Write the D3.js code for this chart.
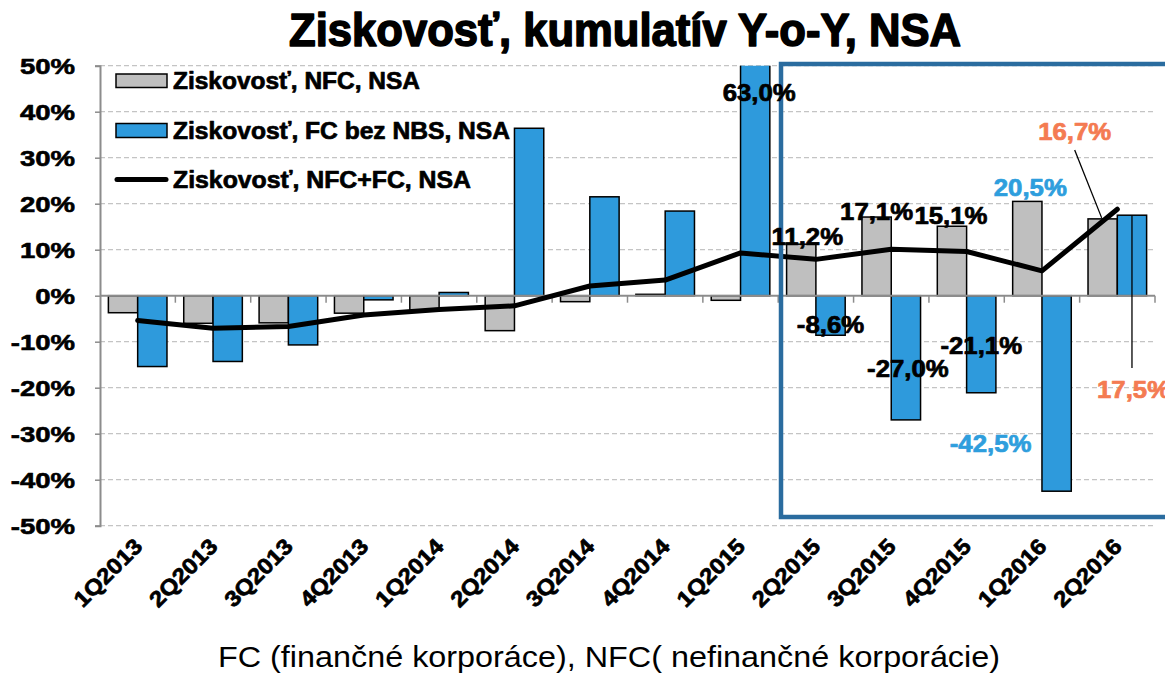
<!DOCTYPE html>
<html>
<head>
<meta charset="utf-8">
<script src="https://cdn.jsdelivr.net/npm/d3@7"></script>
<style>
  body { margin: 0; background: #fff; }
  svg { display: block; }
  text { font-family: "Liberation Sans", Arial, sans-serif; }
  .heavy { stroke-width: 0.7px; paint-order: stroke; }
</style>
</head>
<body>
<svg id="chart" width="1165" height="675"></svg>
<script>
// ---------- DATA ----------
const categories = ["1Q2013","2Q2013","3Q2013","4Q2013","1Q2014","2Q2014","3Q2014","4Q2014","1Q2015","2Q2015","3Q2015","4Q2015","1Q2016","2Q2016"];
const nfcValues  = [-3.7, -6.0, -5.9, -3.8, -3.2, -7.6, -1.3, 0.3, -1.0, 11.2, 17.1, 15.1, 20.5, 16.7];
const fcValues   = [-15.4, -14.3, -10.7, -0.9, 0.7, 36.4, 21.5, 18.4, 63.0, -8.6, -27.0, -21.1, -42.5, 17.5];
const totalValues= [-5.4, -7.1, -6.7, -4.2, -3.0, -2.2, 2.1, 3.4, 9.3, 7.9, 10.1, 9.6, 5.4, 18.8];
const yTicks = [50, 40, 30, 20, 10, 0, -10, -20, -30, -40, -50];
const seriesNames = ["Ziskovosť, NFC, NSA", "Ziskovosť, FC bez NBS, NSA", "Ziskovosť, NFC+FC, NSA"];
const titleText = "Ziskovosť, kumulatív Y-o-Y, NSA";
const footerText = "FC (finančné korporáce), NFC( nefinančné korporácie)";

// ---------- STYLE ----------
const C = { gray: "#BFBFBF", blue: "#2E9ADC", labelBlue: "#2E9EDD", orange: "#F47B52", box: "#2A6C9F", grid: "#C4C4C4", axis: "#8C8C8C" };

const svg = d3.select("#chart");
const L = 100, R = 1155, T = 65.7, B = 525.7;

const x = d3.scaleBand().domain(categories).range([L, R]).paddingInner(0).paddingOuter(0);
const xs = d3.scaleBand().domain(["nfc", "fc"]).range([0, x.bandwidth()]).paddingInner(0).paddingOuter(0.286);
const y = d3.scaleLinear().domain([-50, 50]).range([B, T]);

function stretch(sel, factor) {
  sel.each(function() {
    const w = this.getComputedTextLength();
    d3.select(this).attr("textLength", w * factor).attr("lengthAdjust", "spacingAndGlyphs");
  });
}
function heavy(sel, w) {
  sel.attr("stroke", function() { return d3.select(this).attr("fill") || "#000"; })
     .attr("stroke-width", w).attr("paint-order", "stroke").attr("stroke-linejoin", "round");
}

// Title
svg.append("text").attr("x", 625).attr("y", 46).attr("text-anchor", "middle").attr("fill", "#000")
  .attr("font-size", 47).attr("font-weight", "bold").text(titleText)
  .attr("textLength", 672).attr("lengthAdjust", "spacingAndGlyphs").call(heavy, 1.6);

// Gridlines
svg.append("g").selectAll("line").data(yTicks.filter(d => d !== 0)).join("line")
  .attr("x1", L).attr("x2", R).attr("y1", d => y(d)).attr("y2", d => y(d))
  .attr("stroke", C.grid).attr("stroke-width", 1.3).attr("stroke-dasharray", "5,3");

// Y axis
const yAxis = svg.append("g").attr("transform", `translate(${L},0)`)
  .call(d3.axisLeft(y).tickValues(yTicks).tickSize(5).tickFormat(d => d + "%"));
yAxis.select(".domain").attr("stroke", C.axis).attr("stroke-width", 2);
yAxis.selectAll(".tick line").attr("stroke", C.axis).attr("stroke-width", 1.5);
yAxis.selectAll(".tick text").attr("x", -25).attr("dy", "0.36em").attr("font-size", 22)
  .attr("font-weight", "bold").attr("fill", "#000").attr("font-family", "Liberation Sans, Arial, sans-serif")
  .call(stretch, 1.25).call(heavy, 0.6);

// Clip
svg.append("clipPath").attr("id", "plotclip").append("rect")
  .attr("x", L).attr("y", T).attr("width", R - L).attr("height", B - T);

const bars = svg.append("g").attr("clip-path", "url(#plotclip)");
function barRect(v) { return { y: Math.min(y(v), y(0)), h: Math.abs(y(v) - y(0)) }; }
bars.selectAll("rect.nfc").data(categories).join("rect").attr("class", "nfc")
  .attr("x", (d) => x(d) + xs("nfc")).attr("width", xs.bandwidth())
  .attr("y", (d, i) => barRect(nfcValues[i]).y).attr("height", (d, i) => barRect(nfcValues[i]).h)
  .attr("fill", C.gray).attr("stroke", "#000").attr("stroke-width", 1.5);
bars.selectAll("rect.fc").data(categories).join("rect").attr("class", "fc")
  .attr("x", (d) => x(d) + xs("fc")).attr("width", xs.bandwidth())
  .attr("y", (d, i) => barRect(fcValues[i]).y - (fcValues[i] > 50 ? 5 : 0))
  .attr("height", (d, i) => barRect(fcValues[i]).h + (fcValues[i] > 50 ? 5 : 0))
  .attr("fill", C.blue).attr("stroke", "#000").attr("stroke-width", 1.5);

// X axis line (0%) with ticks
const xAxis = svg.append("g").attr("transform", `translate(0,${y(0)})`);
xAxis.append("line").attr("x1", L).attr("x2", R).attr("stroke", C.axis).attr("stroke-width", 2);
xAxis.selectAll("line.tk").data(categories.slice(1).concat(["__end"])).join("line").attr("class", "tk")
  .attr("x1", d => d === "__end" ? R : x(d)).attr("x2", d => d === "__end" ? R : x(d))
  .attr("y1", 0).attr("y2", 7).attr("stroke", C.axis).attr("stroke-width", 1.5);

// Line series
const line = d3.line().x((d, i) => x(categories[i]) + x.bandwidth() / 2).y(d => y(d));
svg.append("path").datum(totalValues).attr("d", line).attr("fill", "none")
  .attr("stroke", "#000").attr("stroke-width", 5).attr("stroke-linejoin", "round").attr("stroke-linecap", "round");

// X labels
svg.append("g").selectAll("text").data(categories).join("text")
  .attr("transform", d => `translate(${x(d) + x.bandwidth() / 2 + 6},${B + 22}) rotate(-45)`)
  .attr("text-anchor", "end").attr("font-size", 22).attr("font-weight", "bold").attr("fill", "#000").text(d => d)
  .call(stretch, 1.1).call(heavy, 0.7);

// Highlight box
svg.append("rect").attr("x", 781).attr("y", 64).attr("width", 420).attr("height", 453)
  .attr("fill", "none").attr("stroke", C.box).attr("stroke-width", 4.5);

// Legend
const leg = svg.append("g");
leg.append("rect").attr("x", 116).attr("y", 74).attr("width", 51).attr("height", 13.5)
  .attr("fill", C.gray).attr("stroke", "#000").attr("stroke-width", 1.5);
leg.append("rect").attr("x", 116).attr("y", 123.5).attr("width", 51).attr("height", 14)
  .attr("fill", C.blue).attr("stroke", "#000").attr("stroke-width", 1.5);
leg.append("line").attr("x1", 117).attr("x2", 166).attr("y1", 179.5).attr("y2", 179.5)
  .attr("stroke", "#000").attr("stroke-width", 5).attr("stroke-linecap", "round");
const legW = [247, 337, 298];
leg.selectAll("text").data(seriesNames).join("text")
  .attr("x", 173).attr("y", (d, i) => [89, 138.5, 187.5][i]).attr("font-size", 23).attr("font-weight", "bold")
  .attr("fill", "#000").text(d => d).attr("textLength", (d, i) => legW[i]).attr("lengthAdjust", "spacingAndGlyphs")
  .call(heavy, 0.7);

// Data labels
const cx = (i, s) => x(categories[i]) + xs(s) + xs.bandwidth() / 2;
const labels = [
  { i: 8, s: "fc", v: 63.0, dx: 4, yy: y(50) + 35, color: "#000" },
  { i: 9, s: "nfc", v: nfcValues[9], dx: 6, yy: y(nfcValues[9]) + 1, color: "#000" },
  { i: 10, s: "nfc", v: nfcValues[10], dx: 0, yy: y(nfcValues[10]) + 3, color: "#000" },
  { i: 11, s: "nfc", v: nfcValues[11], dx: -1, yy: y(nfcValues[11]) - 2, color: "#000" },
  { i: 12, s: "nfc", v: nfcValues[12], dx: 3, yy: y(nfcValues[12]) - 5, color: C.labelBlue },
  { i: 9, s: "fc", v: fcValues[9], dx: 0, yy: y(fcValues[9]) - 2, color: "#000" },
  { i: 10, s: "fc", v: fcValues[10], dx: 2, yy: y(fcValues[10]) - 43, color: "#000" },
  { i: 11, s: "fc", v: fcValues[11], dx: 0, yy: y(fcValues[11]) - 39, color: "#000" },
  { i: 12, s: "fc", v: fcValues[12], dx: -66, yy: y(fcValues[12]) - 39, color: C.labelBlue }
];
const fmt = v => (v < 0 ? "-" : "") + d3.format(".1f")(Math.abs(v)).replace(".", ",") + "%";
svg.append("g").selectAll("text").data(labels).join("text")
  .attr("x", d => cx(d.i, d.s) + d.dx).attr("y", d => d.yy).attr("text-anchor", "middle")
  .attr("font-size", 23).attr("font-weight", "bold").attr("fill", d => d.color).text(d => fmt(d.v))
  .call(stretch, 1.12).call(heavy, 0.7);

// Orange callouts for 2Q2016
const i16 = 13;
const nfcTopX = cx(i16, "nfc"), fcX = cx(i16, "fc");
svg.append("line").attr("x1", nfcTopX - 28).attr("y1", 150).attr("x2", nfcTopX - 1).attr("y2", y(nfcValues[i16]) - 1)
  .attr("stroke", "#000").attr("stroke-width", 1.3);
svg.append("text").attr("x", nfcTopX - 28).attr("y", 140).attr("text-anchor", "middle")
  .attr("font-size", 23).attr("font-weight", "bold").attr("fill", C.orange).text(fmt(nfcValues[i16]))
  .call(stretch, 1.12).call(heavy, 0.7);
svg.append("line").attr("x1", fcX).attr("y1", y(fcValues[i16])).attr("x2", fcX).attr("y2", 368)
  .attr("stroke", "#000").attr("stroke-width", 1.3);
svg.append("text").attr("x", 1097).attr("y", 398).attr("text-anchor", "start")
  .attr("font-size", 23).attr("font-weight", "bold").attr("fill", C.orange).text(fmt(fcValues[i16]))
  .call(stretch, 1.12).call(heavy, 0.7);

// Footer
svg.append("text").attr("x", 609).attr("y", 667).attr("text-anchor", "middle")
  .attr("font-size", 30).attr("font-family", "Liberation Sans Narrow, Arial Narrow, Liberation Sans, sans-serif")
  .text(footerText).attr("textLength", 782).attr("lengthAdjust", "spacingAndGlyphs");
</script>
</body>
</html>
